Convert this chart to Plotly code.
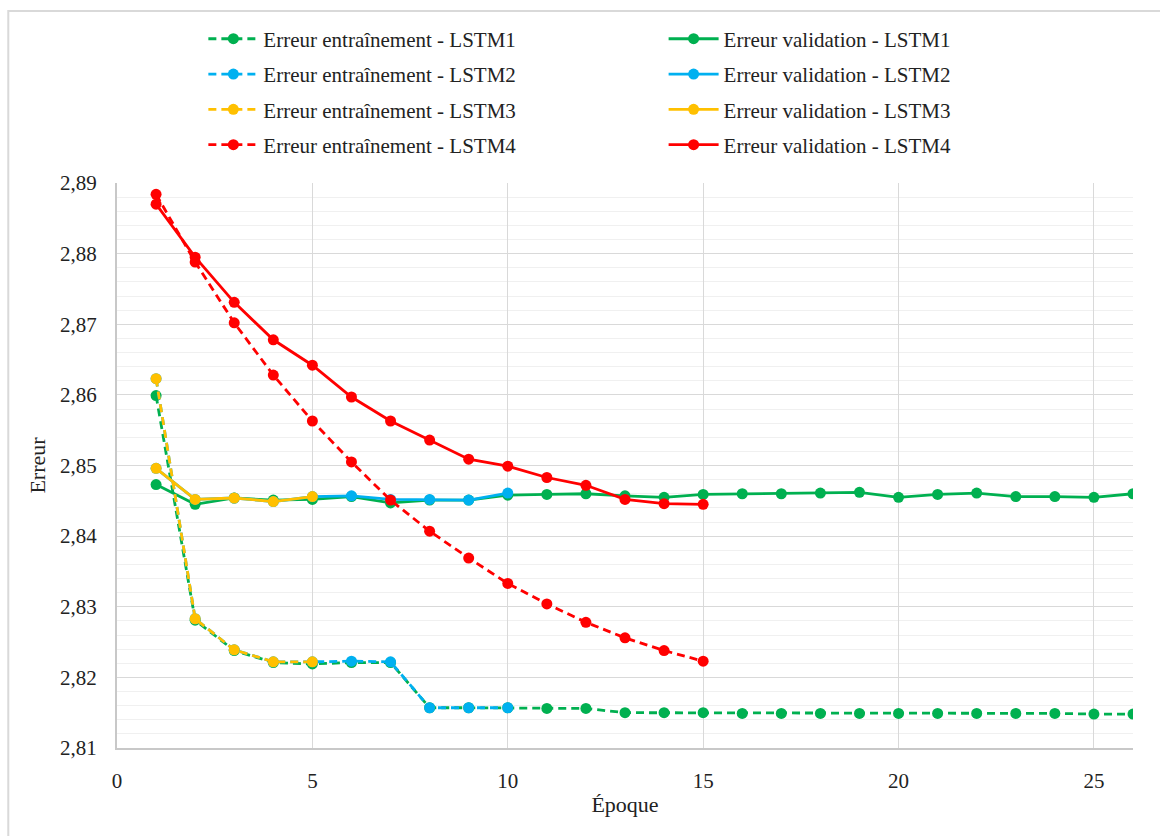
import plotly.graph_objects as go

epochs_1 = list(range(1, 27))
epochs_2 = list(range(1, 11))
epochs_3 = list(range(1, 6))
epochs_4 = list(range(1, 16))

train_lstm1 = [2.8599, 2.8281, 2.8238, 2.8221, 2.8219, 2.8221, 2.8221, 2.8157, 2.8157, 2.8157,
               2.8156, 2.8156, 2.8150, 2.8150, 2.8150, 2.8149, 2.8149, 2.8149, 2.8149, 2.8149,
               2.8149, 2.8149, 2.8149, 2.8149, 2.8148, 2.8148]
val_lstm1 = [2.8473, 2.8445, 2.8454, 2.8451, 2.8452, 2.8456, 2.8447, 2.8451, 2.8451, 2.8458,
             2.8459, 2.8460, 2.8457, 2.8455, 2.8459, 2.8460, 2.8460, 2.8461, 2.8462, 2.8455,
             2.8459, 2.8461, 2.8456, 2.8456, 2.8455, 2.8460]

train_lstm2 = [2.8623, 2.8283, 2.8239, 2.8222, 2.8222, 2.8223, 2.8222, 2.8157, 2.8157, 2.8157]
val_lstm2 = [2.8496, 2.8452, 2.8454, 2.8449, 2.8456, 2.8457, 2.8452, 2.8452, 2.8451, 2.8461]

train_lstm3 = [2.8623, 2.8283, 2.8239, 2.8222, 2.8222]
val_lstm3 = [2.8496, 2.8452, 2.8454, 2.8449, 2.8456]

train_lstm4 = [2.8884, 2.8788, 2.8702, 2.8628, 2.8563, 2.8505, 2.8451, 2.8407, 2.8369, 2.8333,
               2.8304, 2.8278, 2.8256, 2.8238, 2.8223]
val_lstm4 = [2.8870, 2.8795, 2.8731, 2.8678, 2.8642, 2.8597, 2.8563, 2.8536, 2.8509, 2.8499,
             2.8483, 2.8472, 2.8452, 2.8446, 2.8445]

x_ticks = [0, 5, 10, 15, 20, 25]

GREEN = "#00B050"
BLUE = "#00B0F0"
YELLOW = "#FFC000"
RED = "#FF0000"

FONT = "'Liberation Serif', 'DejaVu Serif', serif"

series = [
    ("LSTM1", epochs_1, train_lstm1, val_lstm1, GREEN),
    ("LSTM2", epochs_2, train_lstm2, val_lstm2, BLUE),
    ("LSTM3", epochs_3, train_lstm3, val_lstm3, YELLOW),
    ("LSTM4", epochs_4, train_lstm4, val_lstm4, RED),
]

fig = go.Figure()
for i, (name, ep, tr, va, col) in enumerate(series):
    fig.add_trace(go.Scatter(
        x=ep, y=va, mode="lines+markers",
        name="Erreur validation - " + name,
        line=dict(color=col, width=2.8),
        marker=dict(color=col, size=11),
        legend="legend2", legendgroup="v" + name,
    ))
    fig.add_trace(go.Scatter(
        x=ep, y=tr, mode="lines+markers",
        name="Erreur entraînement - " + name,
        line=dict(color=col, width=2.8, dash="8px,5px"),
        marker=dict(color=col, size=11),
        legend="legend", legendgroup="t" + name,
    ))

legend_common = dict(
    font=dict(family=FONT, size=21, color="#222222"),
    bgcolor="rgba(0,0,0,0)",
    tracegroupgap=5,
    itemwidth=50,
    yanchor="top",
    y=1.291,
    xanchor="left",
    traceorder="grouped",
)

fig.update_layout(
    width=1160, height=836,
    margin=dict(l=117, r=27, t=183, b=88),
    paper_bgcolor="white",
    plot_bgcolor="white",
    separators=",.",
    font=dict(family=FONT, size=21, color="#222222"),
    showlegend=True,
    legend=dict(x=0.085, **legend_common),
    legend2=dict(x=0.538, **legend_common),
    xaxis=dict(
        range=[0, 26],
        tickvals=x_ticks,
        ticks="outside", ticklen=13, tickcolor="rgba(0,0,0,0)",
        showgrid=True, gridcolor="#D9D9D9", gridwidth=1,
        showline=True, linecolor="#C8C8C8", linewidth=2,
        zeroline=False,
        tickfont=dict(family=FONT, size=21, color="#222222"),
        title=dict(text="Époque", font=dict(family=FONT, size=22, color="#222222"), standoff=4),
    ),
    yaxis=dict(
        range=[2.81, 2.89],
        dtick=0.01, tick0=2.81, tickformat=".2f",
        ticks="outside", ticklen=14, tickcolor="rgba(0,0,0,0)",
        showgrid=True, gridcolor="#D9D9D9", gridwidth=1,
        minor=dict(dtick=0.002, showgrid=True, gridcolor="#F0F0F0", gridwidth=1),
        showline=True, linecolor="#C8C8C8", linewidth=2,
        zeroline=False,
        tickfont=dict(family=FONT, size=21, color="#222222"),
        title=dict(text="Erreur", font=dict(family=FONT, size=22, color="#222222"), standoff=8),
    ),
)

fig.add_shape(type="rect", xref="paper", yref="paper",
              x0=-0.107, x1=1.04, y0=-0.2, y1=1.3045,
              line=dict(color="#D9D9D9", width=2), fillcolor="rgba(0,0,0,0)", layer="below")

fig.write_html("out.html")
